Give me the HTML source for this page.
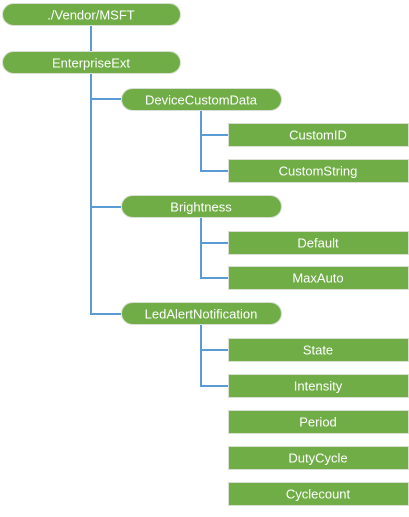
<!DOCTYPE html>
<html><head><style>
body{margin:0;background:#fff;}
svg text{font-family:"Liberation Sans",sans-serif;font-size:13px;fill:#fff;text-anchor:middle;dominant-baseline:central;}
</style></head><body>
<svg width="409" height="512" xmlns="http://www.w3.org/2000/svg">
<g stroke="#5b9bd5" stroke-width="2" fill="none">
<line x1="91" y1="25" x2="91" y2="52"/>
<polyline points="91,73 91,314 121,314"/>
<line x1="91" y1="99" x2="121" y2="99"/>
<line x1="91" y1="207" x2="121" y2="207"/>
<polyline points="201,110 201,171 229,171"/><line x1="201" y1="135" x2="229" y2="135"/>
<polyline points="201,218 201,278 229,278"/><line x1="201" y1="243" x2="229" y2="243"/>
<polyline points="201,325 201,386 229,386"/><line x1="201" y1="350" x2="229" y2="350"/>
</g>
<g fill="#70ad47" stroke="#d9dfd4" stroke-width="1">
<rect x="2.5" y="3.5" width="178" height="22" rx="11"/>
<rect x="2.5" y="51.5" width="178" height="22" rx="11"/>
<rect x="121.5" y="88.5" width="160" height="22" rx="11"/>
<rect x="121.5" y="195.5" width="160" height="22" rx="11"/>
<rect x="121.5" y="302.5" width="160" height="22" rx="11"/>
<rect x="228.5" y="123.5" width="180" height="23"/>
<rect x="228.5" y="159.5" width="180" height="23"/>
<rect x="228.5" y="231.5" width="180" height="23"/>
<rect x="228.5" y="266.5" width="180" height="23"/>
<rect x="228.5" y="338.5" width="180" height="23"/>
<rect x="228.5" y="374.5" width="180" height="23"/>
<rect x="228.5" y="410.5" width="180" height="23"/>
<rect x="228.5" y="446.5" width="180" height="23"/>
<rect x="228.5" y="482.5" width="180" height="23"/>
</g>
<text x="91" y="15">./Vendor/MSFT</text>
<text x="91" y="63">EnterpriseExt</text>
<text x="201" y="100">DeviceCustomData</text>
<text x="201" y="207">Brightness</text>
<text x="201" y="314">LedAlertNotification</text>
<text x="318" y="135">CustomID</text>
<text x="318" y="171">CustomString</text>
<text x="318" y="243">Default</text>
<text x="318" y="278">MaxAuto</text>
<text x="318" y="350">State</text>
<text x="318" y="386">Intensity</text>
<text x="318" y="422">Period</text>
<text x="318" y="458">DutyCycle</text>
<text x="318" y="494">Cyclecount</text>
</svg>
</body></html>
